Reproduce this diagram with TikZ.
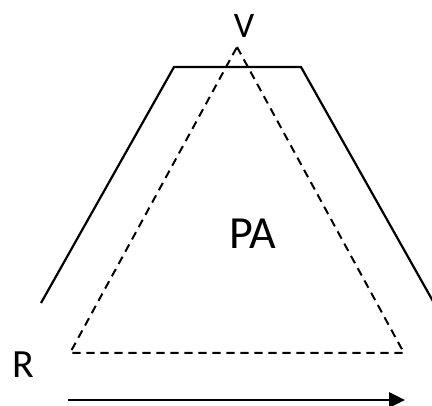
\documentclass[tikz,border=0pt]{standalone}
\usepackage{fontspec}
\setmainfont{Carlito}
\usetikzlibrary{arrows.meta}
\begin{document}
\begin{tikzpicture}[x=1pt,y=-1pt,
  solidline/.style={line width=2.2pt,line join=miter},
  dashline/.style={line width=2pt,dash pattern=on 8.3pt off 5.7pt},
  lbl/.style={inner sep=0pt,anchor=center}]
\useasboundingbox (0,0) rectangle (432,406);
% trapezoid
\coordinate (tl1) at (41,303);
\coordinate (tl2) at (174,67);
\coordinate (tr2) at (301,67);
\coordinate (tr1) at (434,303);
\draw[solidline] (tl1) -- (tl2) -- (tr2) -- (tr1);
% dashed triangle
\coordinate (apex) at (237,47);
\coordinate (bl) at (70,353);
\coordinate (br) at (404,353);
\draw[dashline] (apex) -- (br) -- (bl) -- cycle;
% arrow
\coordinate (a1) at (68,400);
\coordinate (a2) at (405,400);
\draw[line width=2.8pt,-{Triangle[length=16pt,width=15pt]}] (a1) -- (a2);
% labels
\node[lbl,font=\fontsize{36}{40}\selectfont] (V) at (244,26) {V};
\node[lbl,font=\fontsize{40}{46}\selectfont] (R) at (23,365) {R};
\node[lbl,font=\fontsize{46}{52}\selectfont] (PA) at (253,234) {PA};
\end{tikzpicture}
\end{document}
